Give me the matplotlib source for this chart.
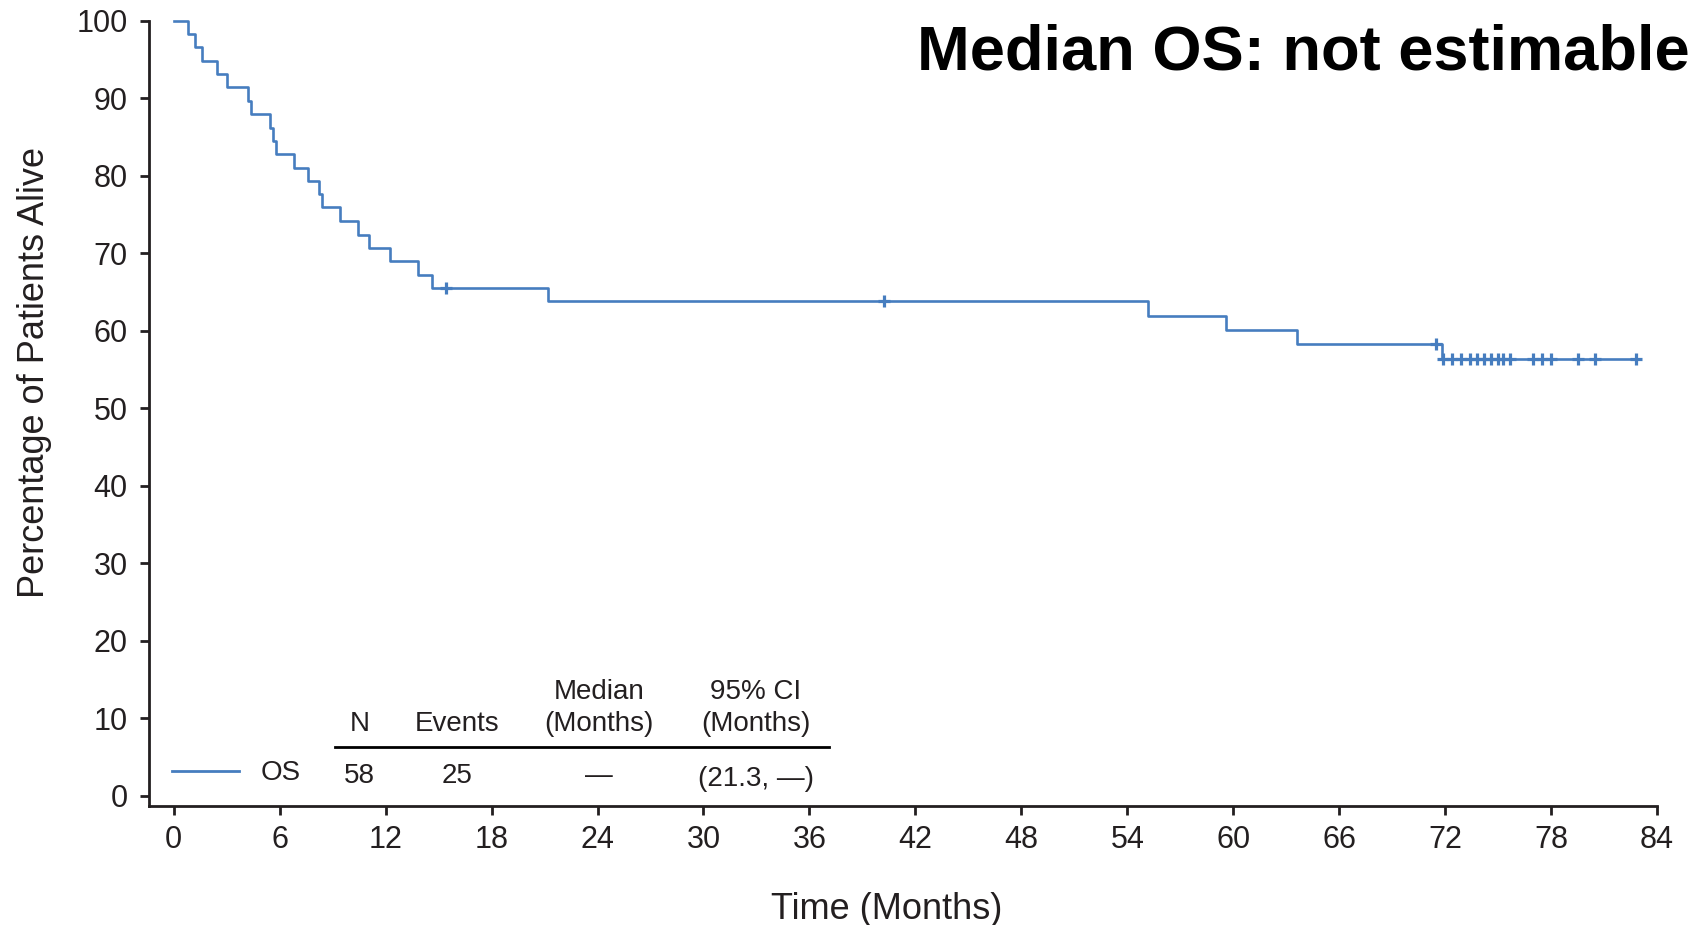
"""
Kaplan-Meier overall survival curve (OS), single arm, N=58.
"""

import numpy as np
import matplotlib
matplotlib.use("Agg")
import matplotlib.pyplot as plt
from matplotlib.lines import Line2D

plt.rcParams["font.family"] = ["Liberation Sans", "DejaVu Sans"]

# event times (months) and survival (%) right after each event
event_times = [0.83, 1.21, 1.60, 2.43, 3.02, 4.23, 4.38, 5.44, 5.64, 5.81,
               6.82, 7.61, 8.23, 8.40, 9.42, 10.42, 11.03, 12.22, 13.82, 14.62,
               21.2, 55.2, 59.6, 63.6, 71.8]
event_surv = [98.3, 96.6, 94.8, 93.1, 91.4, 89.7, 87.9, 86.2, 84.5, 82.8,
              81.0, 79.3, 77.6, 75.9, 74.1, 72.4, 70.7, 69.0, 67.2, 65.5,
              63.8, 61.9, 60.1, 58.3, 56.4]
# censored observations (months)
censor_times = [15.4, 40.2, 71.5, 71.9, 72.4, 72.9, 73.4, 73.8, 74.2, 74.6,
                75.0, 75.3, 75.7, 77.0, 77.5, 78.0, 79.5, 80.5, 82.8]
last_follow_up = 82.8

x_ticks = list(range(0, 85, 6))
y_ticks = list(range(0, 101, 10))

table_header_top = ["", "", "Median", "95% CI"]
table_header_bottom = ["N", "Events", "(Months)", "(Months)"]
table_values = ["58", "25", "\u2014", "(21.3, \u2014)"]
curve_label = "OS"
title_text = "Median OS: not estimable"

BLUE = "#467DBF"
DARK = "#231F20"

# step curve
t = np.concatenate([[0.0], event_times, [last_follow_up]])
s = np.concatenate([[100.0], event_surv, [event_surv[-1]]])
idx = np.searchsorted(event_times, censor_times, side="right")
censor_surv = np.concatenate([[100.0], event_surv])[idx]

fig = plt.figure(figsize=(17.02, 9.25), dpi=100)
ax = fig.add_axes([0.08737, 0.12811, 0.97356 - 0.08737, 0.97762 - 0.12811])

line, = ax.step(t, s, where="post", color=BLUE, lw=1.9, clip_on=False)
ax.plot(censor_times, censor_surv, "+", color=BLUE, ms=9, mew=2.3,
        clip_on=False)

ax.set_xlim(-1.42, 84)
ax.set_ylim(-1.39, 100)
ax.set_xticks(x_ticks)
ax.set_yticks(y_ticks)
ax.tick_params(axis="both", direction="out", length=6.5, width=2,
               color=DARK, labelcolor=DARK, labelsize=22)
ax.tick_params(axis="x", pad=7)
ax.tick_params(axis="y", pad=8.5)
for side in ["top", "right"]:
    ax.spines[side].set_visible(False)
for side in ["left", "bottom"]:
    ax.spines[side].set_linewidth(2)
    ax.spines[side].set_color(DARK)

ax.set_xlabel("Time (Months)", fontsize=26, color=DARK, va="top")
ax.xaxis.set_label_coords(0.489, -0.1086)
ax.set_ylabel("Percentage of Patients Alive", fontsize=26, color=DARK)
ax.yaxis.set_label_coords(-0.064, 0.552)

# summary table in lower-left corner
col_x = [0.1399, 0.2044, 0.2985, 0.4026]
for cx, top, bot, val in zip(col_x, table_header_top, table_header_bottom,
                             table_values):
    if top:
        ax.text(cx, 0.1368, top, transform=ax.transAxes, ha="center",
                va="baseline", fontsize=20, color=DARK)
    ax.text(cx, 0.0961, bot, transform=ax.transAxes, ha="center",
            va="baseline", fontsize=20, color=DARK)
    yb = 0.026 if val.startswith("(") else 0.0299
    ax.text(cx, yb, val, transform=ax.transAxes, ha="center",
            va="baseline", fontsize=20, color=DARK)
ax.add_line(Line2D([0.1235, 0.451], [0.0753, 0.0753], transform=ax.transAxes,
                   color="black", lw=2, clip_on=False))

ax.legend([Line2D([], [], color=BLUE, lw=2)], [curve_label],
          loc="center left", bbox_to_anchor=(0.0155, 0.042), frameon=False,
          fontsize=20, handlelength=2.42, handletextpad=0.76,
          borderpad=0, borderaxespad=0, labelcolor=DARK)

fig.text(1690 / 1702, 1 - 69.5 / 925, title_text, ha="right", va="baseline",
         fontsize=45.5, fontweight="bold", color="black")

fig.savefig("out.png", dpi=100)
